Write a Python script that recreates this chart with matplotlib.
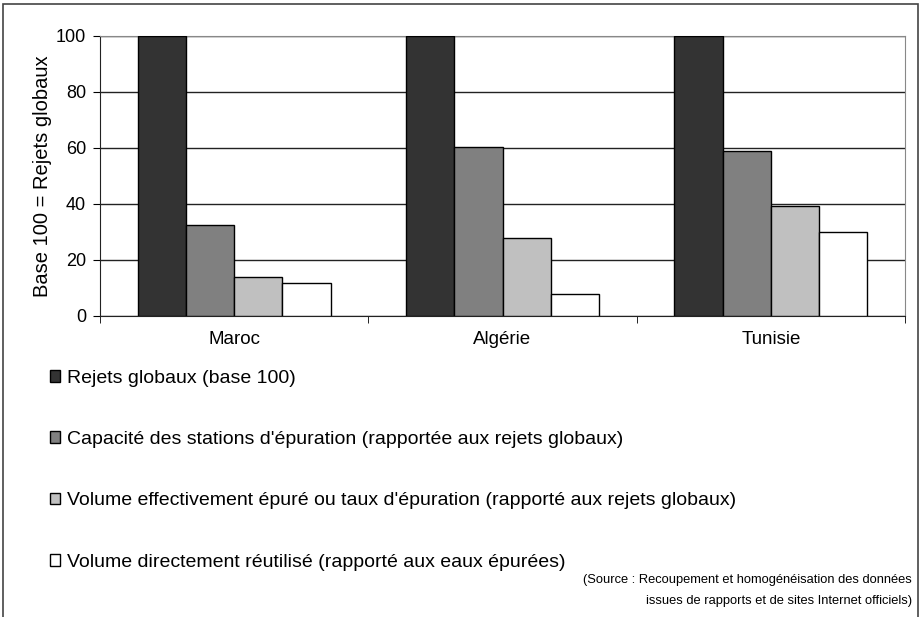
import numpy as np
import matplotlib
matplotlib.use("Agg")
import matplotlib.pyplot as plt
from matplotlib.patches import Rectangle

plt.rcParams['font.family'] = ['Liberation Sans', 'DejaVu Sans']

pays = ["Maroc", "Algérie", "Tunisie"]
series = [
    "Rejets globaux (base 100)",
    "Capacité des stations d'épuration (rapportée aux rejets globaux)",
    "Volume effectivement épuré ou taux d'épuration (rapporté aux rejets globaux)",
    "Volume directement réutilisé (rapporté aux eaux épurées)",
]
rejets = [100, 100, 100]
capacite = [32.5, 60.5, 59]
epure = [14, 27.7, 39.3]
reutilise = [11.8, 8, 30]
couleurs = ["#333333", "#808080", "#c0c0c0", "#ffffff"]
yticks = [0, 20, 40, 60, 80, 100]

W, H = 921, 617
fig = plt.figure(figsize=(W / 100, H / 100), dpi=100)
ax = fig.add_axes([100 / W, 1 - 316 / H, 805 / W, 280 / H])

x = np.arange(len(pays))
bw = 0.18
data = [rejets, capacite, epure, reutilise]
handles = []
for i, vals in enumerate(data):
    b = ax.bar(x - 1.5 * bw + i * bw, vals, bw, color=couleurs[i],
               edgecolor="black", linewidth=1, zorder=3, label=series[i])
    handles.append(b)

ax.set_xlim(-0.5, 2.5)
ax.set_ylim(0, 100)
ax.set_yticks(yticks)
ax.set_yticklabels([str(v) for v in yticks], fontsize=13)
ax.yaxis.grid(True, color="#222222", linewidth=1, zorder=0)
ax.set_xticks(x)
ax.set_xticklabels(pays, fontsize=13.5)
ax.tick_params(axis="x", length=0, pad=11)
ax.set_xticks([-0.5, 0.5, 1.5, 2.5], minor=True)
ax.tick_params(axis="x", which="minor", length=5, direction="out")
ax.tick_params(axis="y", length=5, direction="out", pad=5)
for s in ["top", "right"]:
    ax.spines[s].set_color("#888888")
for s in ["left", "bottom"]:
    ax.spines[s].set_color("#222222")
ax.set_ylabel("Base 100 = Rejets globaux", fontsize=14.5, labelpad=3)

fig.legend(handles=handles, labels=series, loc="upper left",
           bbox_to_anchor=(42 / W, 1 - 362 / H), frameon=False, fontsize=14,
           handlelength=0.55, handleheight=0.55, handletextpad=0.35,
           labelspacing=2.28, borderaxespad=0)

fig.text(912 / W, 1 - 580 / H,
         "(Source : Recoupement et homogénéisation des données",
         ha="right", va="center", fontsize=9.3)
fig.text(912 / W, 1 - 601 / H,
         "issues de rapports et de sites Internet officiels)",
         ha="right", va="center", fontsize=9.3)

fig.patches.append(Rectangle((3 / W, -0.05), 915 / W, 1.05 - 4 / H,
                             transform=fig.transFigure, fill=False,
                             edgecolor="#444444", linewidth=1.2))

fig.savefig("out.png", dpi=100)
